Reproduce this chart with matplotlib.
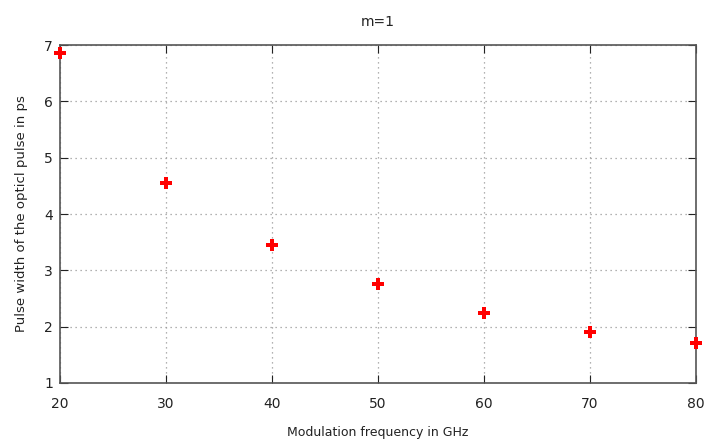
import matplotlib.pyplot as plt

freq_ghz = [20, 30, 40, 50, 60, 70, 80]
pulse_width_ps = [6.86, 4.55, 3.45, 2.75, 2.25, 1.90, 1.71]
x_ticks = [20, 30, 40, 50, 60, 70, 80]
y_ticks = [1, 2, 3, 4, 5, 6, 7]

plt.rcParams['font.family'] = ['DejaVu Sans']

fig = plt.figure(figsize=(7.17, 4.42), dpi=100)
ax = fig.add_axes([0.0837, 0.1335, 0.887, 0.7645])

ax.plot(freq_ghz, pulse_width_ps, linestyle='none', marker='P',
        markersize=9, color='red', markeredgewidth=0, clip_on=False, zorder=5)

ax.set_xlim(20, 80)
ax.set_ylim(1, 7)
ax.set_xticks(x_ticks)
ax.set_yticks(y_ticks)
ax.tick_params(direction='in', length=6, top=True, right=True,
               labelsize=10, colors='#222222')
ax.tick_params(axis='y', pad=5)
ax.tick_params(axis='x', pad=10)
for s in ax.spines.values():
    s.set_color('#555555')
    s.set_linewidth(1.2)
ax.grid(True, linestyle=(0, (1, 3)), color='#999999', linewidth=0.9)

ax.set_title('m=1', fontsize=10, pad=14, color='#222222')
ax.set_xlabel('Modulation frequency in GHz', fontsize=9, labelpad=11, color='#222222')
ax.set_ylabel('Pulse width of the opticl pulse in ps', fontsize=9.5, labelpad=12, color='#222222')

fig.savefig('out.png', dpi=100)
